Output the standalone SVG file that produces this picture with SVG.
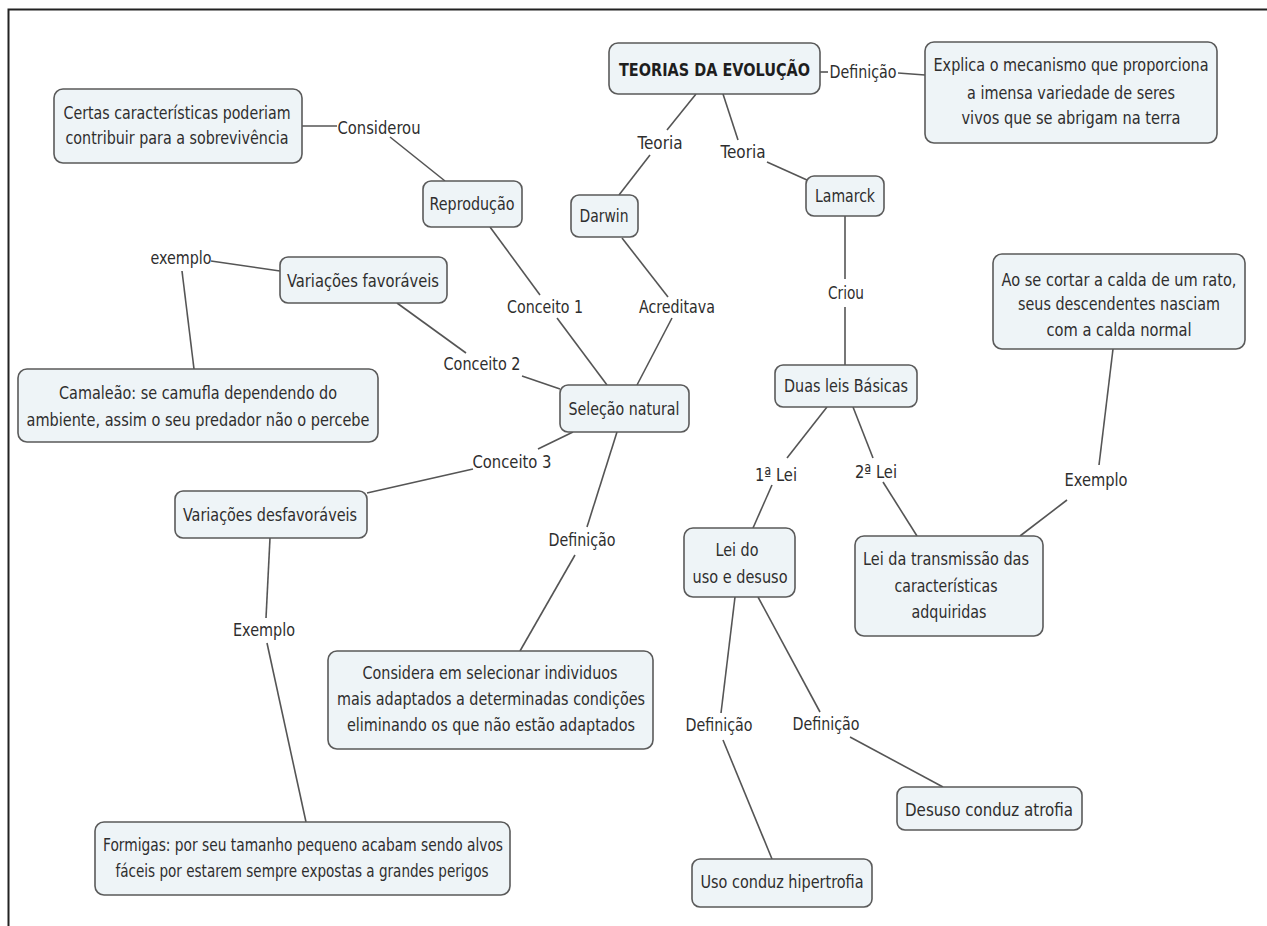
<svg xmlns="http://www.w3.org/2000/svg" width="1267" height="926" viewBox="0 0 1267 926">
<style>
.bx{fill:#eef4f7;stroke:#5a5a5a;stroke-width:1.6}
.t{font-family:"DejaVu Sans Condensed","DejaVu Sans",sans-serif;font-size:18px;fill:#2e2e2e;text-anchor:middle}
.b{font-weight:bold;font-size:17px;fill:#1e1e1e}
.c line{stroke:#555;stroke-width:1.6}
</style>
<rect width="1267" height="926" fill="#fff"/>
<path d="M8.5 926 V9.5 H1267" fill="none" stroke="#222" stroke-width="2"/>
<g class="c" id="connectors">
<line x1="820" y1="72" x2="828" y2="72"/><line x1="898" y1="73" x2="925" y2="75"/>
<line x1="696" y1="94" x2="667" y2="130"/><line x1="650" y1="155" x2="619" y2="195"/>
<line x1="723" y1="94" x2="738" y2="140"/><line x1="767" y1="162" x2="807" y2="180"/>
<line x1="302" y1="126" x2="337" y2="126"/><line x1="390" y1="137" x2="445" y2="181"/>
<line x1="490" y1="227" x2="540" y2="295"/><line x1="557" y1="318" x2="607" y2="385"/>
<line x1="622" y1="238" x2="668" y2="297"/><line x1="672" y1="318" x2="637" y2="385"/>
<line x1="845" y1="216" x2="845" y2="279"/><line x1="845" y1="307" x2="845" y2="365"/>
<line x1="211" y1="261" x2="280" y2="271"/><line x1="182" y1="271" x2="194" y2="369"/>
<line x1="397" y1="303" x2="466" y2="353"/><line x1="522" y1="376" x2="560" y2="389"/>
<line x1="573" y1="432" x2="538" y2="449"/><line x1="473" y1="469" x2="367" y2="493"/>
<line x1="270" y1="538" x2="266" y2="618"/><line x1="267" y1="643" x2="306" y2="822"/>
<line x1="617" y1="432" x2="587" y2="527"/><line x1="575" y1="555" x2="520" y2="651"/>
<line x1="827" y1="407" x2="787" y2="458"/><line x1="772" y1="485" x2="753" y2="528"/>
<line x1="853" y1="407" x2="873" y2="458"/><line x1="883" y1="482" x2="917" y2="536"/>
<line x1="1113" y1="349" x2="1099" y2="465"/><line x1="1067" y1="500" x2="1020" y2="536"/>
<line x1="735" y1="597" x2="721" y2="713"/><line x1="723" y1="740" x2="772" y2="859"/>
<line x1="758" y1="597" x2="820" y2="712"/><line x1="850" y1="737" x2="943" y2="787"/>
</g>
<g id="labels">
<text class="t" x="863" y="78" textLength="67" lengthAdjust="spacingAndGlyphs">Definição</text>
<text class="t" x="660" y="149" textLength="45" lengthAdjust="spacingAndGlyphs">Teoria</text>
<text class="t" x="743" y="158" textLength="45" lengthAdjust="spacingAndGlyphs">Teoria</text>
<text class="t" x="379" y="134" textLength="83" lengthAdjust="spacingAndGlyphs">Considerou</text>
<text class="t" x="545" y="313" textLength="76" lengthAdjust="spacingAndGlyphs">Conceito 1</text>
<text class="t" x="677" y="313" textLength="76" lengthAdjust="spacingAndGlyphs">Acreditava</text>
<text class="t" x="846" y="299" textLength="36" lengthAdjust="spacingAndGlyphs">Criou</text>
<text class="t" x="181" y="264" textLength="61" lengthAdjust="spacingAndGlyphs">exemplo</text>
<text class="t" x="482" y="370" textLength="77" lengthAdjust="spacingAndGlyphs">Conceito 2</text>
<text class="t" x="512" y="468" textLength="79" lengthAdjust="spacingAndGlyphs">Conceito 3</text>
<text class="t" x="264" y="636" textLength="62" lengthAdjust="spacingAndGlyphs">Exemplo</text>
<text class="t" x="582" y="546" textLength="67" lengthAdjust="spacingAndGlyphs">Definição</text>
<text class="t" x="776" y="481" textLength="42" lengthAdjust="spacingAndGlyphs">1ª Lei</text>
<text class="t" x="876" y="478" textLength="42" lengthAdjust="spacingAndGlyphs">2ª Lei</text>
<text class="t" x="1096" y="486" textLength="63" lengthAdjust="spacingAndGlyphs">Exemplo</text>
<text class="t" x="719" y="731" textLength="67" lengthAdjust="spacingAndGlyphs">Definição</text>
<text class="t" x="826" y="730" textLength="67" lengthAdjust="spacingAndGlyphs">Definição</text>
</g>
<g id="teorias"><rect class="bx" x="609" y="43" width="211" height="51" rx="9"/>
<text class="t b" x="714.5" y="76" textLength="191" lengthAdjust="spacingAndGlyphs">TEORIAS DA EVOLUÇÃO</text></g>
<g id="explica"><rect class="bx" x="925" y="42" width="292" height="101" rx="9"/>
<text class="t" x="1071" y="71" textLength="275" lengthAdjust="spacingAndGlyphs">Explica o mecanismo que proporciona</text>
<text class="t" x="1071" y="99" textLength="208" lengthAdjust="spacingAndGlyphs">a imensa variedade de seres</text>
<text class="t" x="1071" y="124" textLength="219" lengthAdjust="spacingAndGlyphs">vivos que se abrigam na terra</text></g>
<g id="certas"><rect class="bx" x="54" y="89" width="248" height="74" rx="9"/>
<text class="t" x="177" y="119" textLength="227" lengthAdjust="spacingAndGlyphs">Certas características poderiam</text>
<text class="t" x="177" y="144" textLength="223" lengthAdjust="spacingAndGlyphs">contribuir para a sobrevivência</text></g>
<g id="reproducao"><rect class="bx" x="423" y="181" width="99" height="46" rx="8"/>
<text class="t" x="472" y="210" textLength="85" lengthAdjust="spacingAndGlyphs">Reprodução</text></g>
<g id="darwin"><rect class="bx" x="571" y="195" width="67" height="42" rx="8"/>
<text class="t" x="604" y="222" textLength="49" lengthAdjust="spacingAndGlyphs">Darwin</text></g>
<g id="lamarck"><rect class="bx" x="806" y="176" width="78" height="40" rx="8"/>
<text class="t" x="845" y="202" textLength="60" lengthAdjust="spacingAndGlyphs">Lamarck</text></g>
<g id="duasleis"><rect class="bx" x="775" y="365" width="142" height="42" rx="8"/>
<text class="t" x="846" y="392" textLength="124" lengthAdjust="spacingAndGlyphs">Duas leis Básicas</text></g>
<g id="aosecortar"><rect class="bx" x="993" y="254" width="252" height="95" rx="9"/>
<text class="t" x="1119" y="286" textLength="235" lengthAdjust="spacingAndGlyphs">Ao se cortar a calda de um rato,</text>
<text class="t" x="1119" y="310" textLength="202" lengthAdjust="spacingAndGlyphs">seus descendentes nasciam</text>
<text class="t" x="1119" y="336" textLength="145" lengthAdjust="spacingAndGlyphs">com a calda normal</text></g>
<g id="selecao"><rect class="bx" x="560" y="385" width="129" height="47" rx="8"/>
<text class="t" x="624" y="415" textLength="111" lengthAdjust="spacingAndGlyphs">Seleção natural</text></g>
<g id="favoraveis"><rect class="bx" x="280" y="257" width="167" height="46" rx="8"/>
<text class="t" x="363" y="287" textLength="152" lengthAdjust="spacingAndGlyphs">Variações favoráveis</text></g>
<g id="camaleao"><rect class="bx" x="18" y="369" width="360" height="73" rx="9"/>
<text class="t" x="198" y="399" textLength="278" lengthAdjust="spacingAndGlyphs">Camaleão: se camufla dependendo do</text>
<text class="t" x="198" y="426" textLength="343" lengthAdjust="spacingAndGlyphs">ambiente, assim o seu predador não o percebe</text></g>
<g id="desfavoraveis"><rect class="bx" x="175" y="491" width="192" height="47" rx="8"/>
<text class="t" x="270" y="521" textLength="174" lengthAdjust="spacingAndGlyphs">Variações desfavoráveis</text></g>
<g id="formigas"><rect class="bx" x="95" y="822" width="415" height="73" rx="9"/>
<text class="t" x="303" y="851" textLength="400" lengthAdjust="spacingAndGlyphs">Formigas: por seu tamanho pequeno acabam sendo alvos</text>
<text class="t" x="302" y="877" textLength="373" lengthAdjust="spacingAndGlyphs">fáceis por estarem sempre expostas a grandes perigos</text></g>
<g id="considera"><rect class="bx" x="328" y="651" width="325" height="98" rx="9"/>
<text class="t" x="490" y="679" textLength="255" lengthAdjust="spacingAndGlyphs">Considera em selecionar individuos</text>
<text class="t" x="491" y="705" textLength="308" lengthAdjust="spacingAndGlyphs">mais adaptados a determinadas condições</text>
<text class="t" x="491" y="731" textLength="288" lengthAdjust="spacingAndGlyphs">eliminando os que não estão adaptados</text></g>
<g id="leiuso"><rect class="bx" x="684" y="528" width="111" height="69" rx="9"/>
<text class="t" x="737" y="556" textLength="43" lengthAdjust="spacingAndGlyphs">Lei do</text>
<text class="t" x="740" y="583" textLength="95" lengthAdjust="spacingAndGlyphs">uso e desuso</text></g>
<g id="leitransmissao"><rect class="bx" x="855" y="536" width="188" height="100" rx="9"/>
<text class="t" x="946" y="565" textLength="166" lengthAdjust="spacingAndGlyphs">Lei da transmissão das</text>
<text class="t" x="946" y="592" textLength="103" lengthAdjust="spacingAndGlyphs">características</text>
<text class="t" x="949" y="618" textLength="75" lengthAdjust="spacingAndGlyphs">adquiridas</text></g>
<g id="uso"><rect class="bx" x="692" y="859" width="180" height="48" rx="8"/>
<text class="t" x="782" y="888" textLength="163" lengthAdjust="spacingAndGlyphs">Uso conduz hipertrofia</text></g>
<g id="desuso"><rect class="bx" x="897" y="787" width="185" height="43" rx="8"/>
<text class="t" x="989" y="816" textLength="168" lengthAdjust="spacingAndGlyphs">Desuso conduz atrofia</text></g>
</svg>
